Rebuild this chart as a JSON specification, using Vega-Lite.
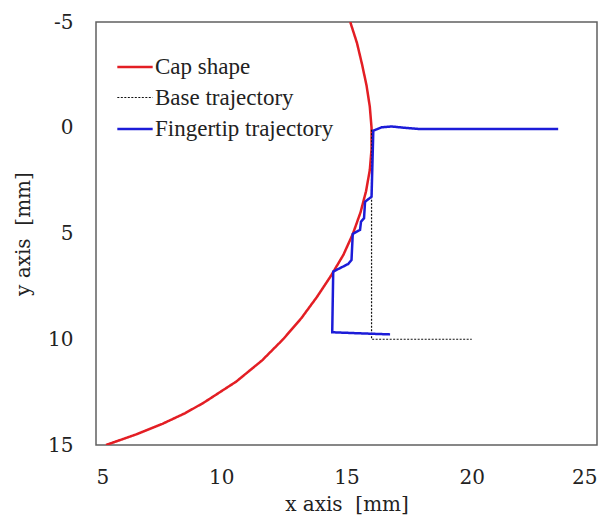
{
  "$schema": "https://vega.github.io/schema/vega-lite/v6.json",
  "autosize": {"type": "none"},
  "padding": {"left": 96, "top": 22, "right": 13, "bottom": 77},
  "width": 501,
  "height": 423,
  "background": "white",
  "config": {
    "font": "Liberation Serif",
    "view": {"stroke": "#606060", "strokeWidth": 1.5},
    "axis": {"grid": false, "ticks": false, "domain": false}
  },
  "data": {
    "values": [
      {"series": "Cap shape", "order": 1, "x": 15.15, "y": -5},
      {"series": "Cap shape", "order": 2, "x": 15.42, "y": -4},
      {"series": "Cap shape", "order": 3, "x": 15.62, "y": -3},
      {"series": "Cap shape", "order": 4, "x": 15.8, "y": -2},
      {"series": "Cap shape", "order": 5, "x": 15.93, "y": -1},
      {"series": "Cap shape", "order": 6, "x": 16.0, "y": 0},
      {"series": "Cap shape", "order": 7, "x": 16.0, "y": 1},
      {"series": "Cap shape", "order": 8, "x": 15.93, "y": 2},
      {"series": "Cap shape", "order": 9, "x": 15.78, "y": 3},
      {"series": "Cap shape", "order": 10, "x": 15.56, "y": 4},
      {"series": "Cap shape", "order": 11, "x": 15.26, "y": 5},
      {"series": "Cap shape", "order": 12, "x": 14.88, "y": 6},
      {"series": "Cap shape", "order": 13, "x": 14.38, "y": 7},
      {"series": "Cap shape", "order": 14, "x": 13.82, "y": 8},
      {"series": "Cap shape", "order": 15, "x": 13.2, "y": 9},
      {"series": "Cap shape", "order": 16, "x": 12.47, "y": 10},
      {"series": "Cap shape", "order": 17, "x": 11.63, "y": 11},
      {"series": "Cap shape", "order": 18, "x": 10.6, "y": 12},
      {"series": "Cap shape", "order": 19, "x": 9.3, "y": 13},
      {"series": "Cap shape", "order": 20, "x": 8.55, "y": 13.5},
      {"series": "Cap shape", "order": 21, "x": 7.65, "y": 14},
      {"series": "Cap shape", "order": 22, "x": 6.6, "y": 14.5},
      {"series": "Cap shape", "order": 23, "x": 5.4, "y": 15},
      {"series": "Base trajectory", "order": 1, "x": 16.0, "y": 0.1},
      {"series": "Base trajectory", "order": 2, "x": 16.0, "y": 10.0},
      {"series": "Base trajectory", "order": 3, "x": 20.0, "y": 10.0},
      {"series": "Fingertip trajectory", "order": 1, "x": 23.45, "y": 0.06},
      {"series": "Fingertip trajectory", "order": 2, "x": 17.9, "y": 0.06},
      {"series": "Fingertip trajectory", "order": 3, "x": 17.3, "y": 0.0},
      {"series": "Fingertip trajectory", "order": 4, "x": 16.8, "y": -0.06},
      {"series": "Fingertip trajectory", "order": 5, "x": 16.4, "y": -0.02},
      {"series": "Fingertip trajectory", "order": 6, "x": 16.07, "y": 0.14},
      {"series": "Fingertip trajectory", "order": 7, "x": 16.0, "y": 3.26},
      {"series": "Fingertip trajectory", "order": 8, "x": 15.74, "y": 3.5},
      {"series": "Fingertip trajectory", "order": 9, "x": 15.7, "y": 4.28},
      {"series": "Fingertip trajectory", "order": 10, "x": 15.58, "y": 4.44},
      {"series": "Fingertip trajectory", "order": 11, "x": 15.54, "y": 4.83},
      {"series": "Fingertip trajectory", "order": 12, "x": 15.25, "y": 5.02},
      {"series": "Fingertip trajectory", "order": 13, "x": 15.2, "y": 6.25},
      {"series": "Fingertip trajectory", "order": 14, "x": 15.07, "y": 6.44},
      {"series": "Fingertip trajectory", "order": 15, "x": 14.47, "y": 6.8},
      {"series": "Fingertip trajectory", "order": 16, "x": 14.43, "y": 9.67},
      {"series": "Fingertip trajectory", "order": 17, "x": 15.54, "y": 9.72},
      {"series": "Fingertip trajectory", "order": 18, "x": 16.74, "y": 9.77}
    ]
  },
  "mark": {"type": "line", "clip": true, "interpolate": "linear"},
  "encoding": {
    "x": {
      "field": "x", "type": "quantitative",
      "scale": {"domain": [5, 25], "nice": false, "zero": false},
      "axis": {"values": [5, 10, 15, 20, 25], "title": "x axis\u00a0 [mm]", "labelPadding": 22, "titlePadding": 7,
        "labelFont": "DejaVu Serif", "titleFont": "DejaVu Serif", "labelFontSize": 20, "titleFontSize": 20, "labelColor": "#222222", "titleColor": "#222222", "titleFontWeight": "normal"}
    },
    "y": {
      "field": "y", "type": "quantitative",
      "scale": {"domain": [-5, 15], "nice": false, "zero": false, "reverse": true},
      "axis": {"values": [-5, 0, 5, 10, 15], "title": "y axis\u00a0 [mm]", "labelPadding": 23, "titlePadding": 14, "labelExpr": "'' + datum.value",
        "labelFont": "DejaVu Serif", "titleFont": "DejaVu Serif", "labelFontSize": 20, "titleFontSize": 20, "labelColor": "#222222", "titleColor": "#222222", "titleFontWeight": "normal"}
    },
    "order": {"field": "order", "type": "quantitative"},
    "color": {
      "field": "series", "type": "nominal",
      "scale": {"domain": ["Cap shape", "Base trajectory", "Fingertip trajectory"], "range": ["#e31e24", "#111111", "#1c1cd8"]},
      "legend": {
        "title": null, "orient": "none", "legendX": 20, "legendY": 26,
        "symbolType": "stroke", "symbolSize": 1250, "symbolStrokeWidth": 2.5,
        "labelFont": "Liberation Serif", "labelFontSize": 23, "labelColor": "#222222", "labelOffset": 1, "rowPadding": 0, "labelLimit": 400,
        "encode": {"symbols": {"update": {"strokeWidth": {"signal": "datum.value === 'Base trajectory' ? 1.2 : 2.5"}}}}
      }
    },
    "strokeDash": {
      "field": "series", "type": "nominal",
      "scale": {"domain": ["Cap shape", "Base trajectory", "Fingertip trajectory"], "range": [[1, 0], [2, 1.5], [1, 0]]},
      "legend": {
        "title": null, "orient": "none", "legendX": 20, "legendY": 26,
        "symbolType": "stroke", "symbolSize": 1250, "symbolStrokeWidth": 2.5,
        "labelFont": "Liberation Serif", "labelFontSize": 23, "labelColor": "#222222", "labelOffset": 1, "rowPadding": 0, "labelLimit": 400,
        "encode": {"symbols": {"update": {"strokeWidth": {"signal": "datum.value === 'Base trajectory' ? 1.2 : 2.5"}}}}
      }
    },
    "strokeWidth": {
      "field": "series", "type": "nominal",
      "scale": {"type": "ordinal", "domain": ["Cap shape", "Base trajectory", "Fingertip trajectory"], "range": [2.5, 1.2, 2.5]},
      "legend": null
    }
  }
}
